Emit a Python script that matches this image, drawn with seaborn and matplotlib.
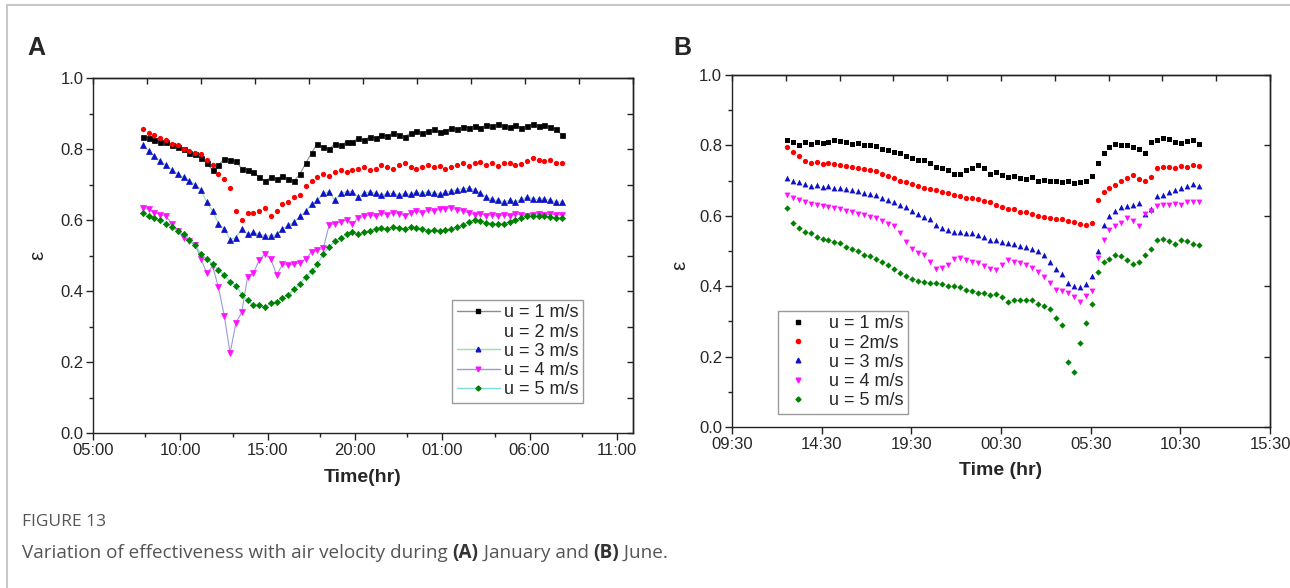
import numpy as np
import matplotlib
matplotlib.use("Agg")
import matplotlib.pyplot as plt
from matplotlib.lines import Line2D
from matplotlib.patches import Rectangle
import seaborn as sns

# %% data, one sample every 20 min
# (A) January, first sample at 07:51, hours counted from midnight of day 1
jan_start = 7.85
jan_u1 = [0.835, 0.83, 0.825, 0.82, 0.82, 0.81, 0.805, 0.80, 0.79, 0.785,
          0.775, 0.76, 0.74, 0.755, 0.772, 0.77, 0.765, 0.745, 0.74, 0.735,
          0.72, 0.71, 0.72, 0.715, 0.725, 0.715, 0.71, 0.73, 0.76, 0.79,
          0.815, 0.805, 0.80, 0.815, 0.81, 0.82, 0.82, 0.83, 0.825, 0.835,
          0.83, 0.84, 0.838, 0.845, 0.84, 0.835, 0.845, 0.85, 0.845, 0.852,
          0.855, 0.848, 0.85, 0.86, 0.855, 0.862, 0.86, 0.865, 0.86, 0.868,
          0.865, 0.87, 0.865, 0.862, 0.868, 0.86, 0.865, 0.87, 0.865, 0.868,
          0.862, 0.855, 0.84]
jan_u2 = [0.856, 0.845, 0.84, 0.83, 0.825, 0.815, 0.81, 0.80, 0.795, 0.79,
          0.785, 0.77, 0.755, 0.73, 0.715, 0.69, 0.625, 0.60, 0.62, 0.62,
          0.625, 0.635, 0.61, 0.625, 0.645, 0.65, 0.665, 0.67, 0.695, 0.71,
          0.72, 0.73, 0.725, 0.735, 0.74, 0.735, 0.74, 0.745, 0.75, 0.74,
          0.745, 0.755, 0.75, 0.745, 0.755, 0.76, 0.75, 0.745, 0.75, 0.755,
          0.748, 0.752, 0.745, 0.75, 0.755, 0.76, 0.752, 0.76, 0.763, 0.755,
          0.76, 0.752, 0.76, 0.762, 0.755, 0.758, 0.765, 0.775, 0.77, 0.765,
          0.768, 0.762, 0.76]
jan_u3 = [0.81, 0.795, 0.78, 0.765, 0.755, 0.74, 0.73, 0.72, 0.71, 0.70,
          0.685, 0.65, 0.625, 0.59, 0.575, 0.545, 0.55, 0.575, 0.56, 0.565,
          0.56, 0.555, 0.555, 0.56, 0.575, 0.585, 0.595, 0.61, 0.625, 0.645,
          0.655, 0.675, 0.68, 0.655, 0.675, 0.68, 0.68, 0.665, 0.675, 0.68,
          0.675, 0.67, 0.675, 0.675, 0.67, 0.675, 0.672, 0.678, 0.675, 0.68,
          0.677, 0.673, 0.678, 0.682, 0.685, 0.688, 0.69, 0.685, 0.675, 0.665,
          0.658, 0.655, 0.652, 0.655, 0.652, 0.658, 0.665, 0.66, 0.658, 0.66,
          0.655, 0.652, 0.65]
jan_u4 = [0.634, 0.63, 0.62, 0.615, 0.61, 0.59, 0.57, 0.55, 0.54, 0.53,
          0.49, 0.45, 0.47, 0.41, 0.33, 0.225, 0.31, 0.34, 0.44, 0.45,
          0.487, 0.505, 0.49, 0.445, 0.475, 0.473, 0.475, 0.48, 0.49, 0.51,
          0.515, 0.52, 0.585, 0.59, 0.595, 0.60, 0.59, 0.605, 0.61, 0.615,
          0.61, 0.62, 0.615, 0.62, 0.618, 0.612, 0.62, 0.625, 0.62, 0.628,
          0.625, 0.63, 0.632, 0.635, 0.628, 0.625, 0.62, 0.615, 0.618, 0.612,
          0.615, 0.61, 0.615, 0.612, 0.618, 0.615, 0.612, 0.615, 0.618, 0.614,
          0.616, 0.615, 0.614]
jan_u5 = [0.62, 0.61, 0.605, 0.60, 0.59, 0.58, 0.57, 0.56, 0.545, 0.53,
          0.505, 0.49, 0.475, 0.46, 0.445, 0.425, 0.415, 0.39, 0.375, 0.36,
          0.36, 0.355, 0.365, 0.37, 0.38, 0.39, 0.405, 0.42, 0.44, 0.455,
          0.475, 0.505, 0.525, 0.54, 0.55, 0.56, 0.565, 0.56, 0.565, 0.57,
          0.575, 0.578, 0.575, 0.58, 0.578, 0.575, 0.58, 0.578, 0.575, 0.57,
          0.572, 0.568, 0.572, 0.575, 0.58, 0.585, 0.595, 0.60, 0.598, 0.592,
          0.59, 0.588, 0.59, 0.595, 0.60, 0.605, 0.61, 0.612, 0.61, 0.612,
          0.608, 0.607, 0.605]

# (B) June, first sample at 12:33
jun_start = 12.55
jun_u1 = [0.815, 0.81, 0.80, 0.81, 0.805, 0.81, 0.808, 0.81, 0.815, 0.812,
          0.81, 0.805, 0.808, 0.80, 0.80, 0.798, 0.79, 0.788, 0.78, 0.778,
          0.77, 0.765, 0.76, 0.758, 0.75, 0.74, 0.735, 0.73, 0.72, 0.718,
          0.73, 0.735, 0.745, 0.735, 0.72, 0.725, 0.715, 0.71, 0.712, 0.708,
          0.705, 0.71, 0.70, 0.702, 0.698, 0.70, 0.695, 0.698, 0.692, 0.695,
          0.70, 0.712, 0.75, 0.778, 0.795, 0.805, 0.80, 0.80, 0.795, 0.79,
          0.778, 0.81, 0.815, 0.82, 0.818, 0.81, 0.808, 0.812, 0.815, 0.805]
jun_u2 = [0.795, 0.78, 0.77, 0.755, 0.75, 0.752, 0.748, 0.75, 0.748, 0.745,
          0.742, 0.74, 0.735, 0.732, 0.73, 0.728, 0.72, 0.712, 0.708, 0.70,
          0.695, 0.69, 0.685, 0.68, 0.675, 0.672, 0.668, 0.665, 0.66, 0.655,
          0.652, 0.65, 0.648, 0.642, 0.638, 0.632, 0.625, 0.62, 0.618, 0.612,
          0.61, 0.605, 0.60, 0.598, 0.595, 0.592, 0.59, 0.585, 0.582, 0.578,
          0.575, 0.58, 0.645, 0.668, 0.68, 0.688, 0.70, 0.708, 0.715, 0.705,
          0.698, 0.71, 0.735, 0.74, 0.738, 0.735, 0.742, 0.738, 0.745, 0.742]
jun_u3 = [0.707, 0.70, 0.695, 0.69, 0.685, 0.688, 0.682, 0.685, 0.68, 0.678,
          0.675, 0.672, 0.67, 0.665, 0.662, 0.66, 0.652, 0.645, 0.638, 0.632,
          0.625, 0.615, 0.605, 0.598, 0.59, 0.575, 0.565, 0.56, 0.555, 0.555,
          0.55, 0.55, 0.545, 0.54, 0.532, 0.53, 0.525, 0.522, 0.52, 0.515,
          0.512, 0.505, 0.50, 0.49, 0.47, 0.45, 0.435, 0.41, 0.40, 0.398,
          0.405, 0.43, 0.50, 0.575, 0.60, 0.615, 0.625, 0.628, 0.632, 0.636,
          0.605, 0.62, 0.655, 0.66, 0.668, 0.672, 0.68, 0.685, 0.69, 0.685]
jun_u4 = [0.66, 0.65, 0.645, 0.638, 0.635, 0.632, 0.628, 0.625, 0.622, 0.62,
          0.615, 0.61, 0.605, 0.602, 0.598, 0.594, 0.585, 0.578, 0.57, 0.55,
          0.525, 0.505, 0.495, 0.49, 0.47, 0.448, 0.452, 0.46, 0.478, 0.48,
          0.475, 0.47, 0.465, 0.458, 0.45, 0.445, 0.46, 0.474, 0.47, 0.465,
          0.46, 0.452, 0.44, 0.425, 0.41, 0.39, 0.385, 0.382, 0.37, 0.355,
          0.372, 0.385, 0.48, 0.53, 0.56, 0.572, 0.58, 0.595, 0.585, 0.57,
          0.605, 0.615, 0.628, 0.63, 0.632, 0.635, 0.63, 0.638, 0.64, 0.64]
jun_u5 = [0.622, 0.58, 0.565, 0.555, 0.55, 0.54, 0.535, 0.53, 0.525, 0.522,
          0.512, 0.505, 0.50, 0.49, 0.485, 0.478, 0.47, 0.46, 0.448, 0.438,
          0.428, 0.42, 0.415, 0.412, 0.41, 0.41, 0.405, 0.40, 0.402, 0.398,
          0.39, 0.385, 0.38, 0.38, 0.375, 0.378, 0.37, 0.355, 0.36, 0.362,
          0.36, 0.36, 0.35, 0.345, 0.335, 0.31, 0.29, 0.185, 0.155, 0.24,
          0.295, 0.35, 0.44, 0.468, 0.478, 0.49, 0.485, 0.475, 0.462, 0.47,
          0.49, 0.505, 0.53, 0.535, 0.528, 0.52, 0.53, 0.528, 0.52, 0.517]

jan_hours = jan_start + np.arange(len(jan_u1)) / 3
jun_hours = jun_start + np.arange(len(jun_u1)) / 3

jan_labels = ["u = 1 m/s", "u = 2 m/s", "u = 3 m/s", "u = 4 m/s", "u = 5 m/s"]
jun_labels = ["u = 1 m/s", "u = 2m/s", "u = 3 m/s", "u = 4 m/s", "u = 5 m/s"]

jan_ticks = [5, 10, 15, 20, 25, 30, 35]
jan_ticklabels = ["05:00", "10:00", "15:00", "20:00", "01:00", "06:00", "11:00"]
jan_minor = [8, 13, 18, 23, 28, 33]
jun_ticks = [9.5, 14.5, 19.5, 24.5, 29.5, 34.5, 39.5]
jun_ticklabels = ["09:30", "14:30", "19:30", "00:30", "05:30", "10:30", "15:30"]

# %% style
sns.set_theme(style="ticks")
plt.rcParams["font.family"] = ["Liberation Sans", "DejaVu Sans"]
plt.rcParams["axes.edgecolor"] = "#222222"
plt.rcParams["axes.linewidth"] = 1.0

markers = ["s", "o", "^", "v", "D"]
colors = ["#000000", "#ff0000", "#1010c8", "#ff10ff", "#008000"]
line_colors = ["#8c8c8c", None, "#8fe6a8", "#9a9ad8", "#7fe0e0"]
msizes = [3.6, 3.8, 4.2, 4.2, 3.2]

fig = plt.figure(figsize=(12.9, 5.88), dpi=100)
ax_a = fig.add_axes([0.0721, 0.2636, 0.4186, 0.6037])
ax_b = fig.add_axes([0.5674, 0.2738, 0.4171, 0.5986])


def style_axes(ax, xlim, ticks, ticklabels, minor, right_step, ylabel_xy, xlabel_y, xlabel):
    ax.set_xlim(*xlim)
    ax.set_ylim(0, 1.0)
    ax.set_xticks(ticks)
    ax.set_xticklabels(ticklabels)
    ax.set_xticks(minor, minor=True)
    ax.set_yticks([0, 0.2, 0.4, 0.6, 0.8, 1.0])
    ax.set_yticklabels(["0.0", "0.2", "0.4", "0.6", "0.8", "1.0"])
    ax.set_yticks([0.1, 0.3, 0.5, 0.7, 0.9], minor=True)
    ax.tick_params(which="major", direction="out", length=5, width=1.0,
                   labelsize=12, pad=2, color="#222222")
    ax.tick_params(which="minor", direction="out", length=3, width=1.0,
                   color="#222222")
    for s in ax.spines.values():
        s.set_visible(True)
        s.set_color("#222222")

    # the top and right edges carry their own inward ticks
    top = ax.secondary_xaxis("top")
    top.set_xticks([xlim[0] + (xlim[1] - xlim[0]) * i / 10 for i in range(11)])
    top.tick_params(direction="in", length=4, width=1.0, labeltop=False, color="#222222")
    right = ax.secondary_yaxis("right")
    right.set_yticks(list(np.arange(0, 1.001, right_step)))
    right.tick_params(direction="in", length=4, width=1.0, labelright=False, color="#222222")

    ax.set_xlabel(xlabel, fontsize=14, fontweight="bold")
    ax.set_ylabel("ε", fontsize=15)
    ax.xaxis.set_label_coords(0.5, xlabel_y)
    ax.yaxis.set_label_coords(*ylabel_xy)


# %% panel A: markers joined by thin lines
jan_series = [jan_u1, jan_u2, jan_u3, jan_u4, jan_u5]
for vals, mk, col, lcol, ms in zip(jan_series, markers, colors, line_colors, msizes):
    if lcol is None:
        sns.scatterplot(x=jan_hours, y=vals, ax=ax_a, marker=mk, color=col,
                        s=ms ** 2, linewidth=0, legend=False, zorder=3)
    else:
        sns.lineplot(x=jan_hours, y=vals, ax=ax_a, color=lcol, linewidth=0.8,
                     marker=mk, markersize=ms, markerfacecolor=col,
                     markeredgecolor=col, markeredgewidth=0.5, legend=False,
                     zorder=3)

style_axes(ax_a, (5, 35.92), jan_ticks, jan_ticklabels, jan_minor, 0.1,
           (-0.085, 0.5), -0.1, "Time(hr)")

handles_a = []
for mk, col, lcol, ms in zip(markers, colors, line_colors, msizes):
    if lcol is None:
        handles_a.append(Line2D([], [], linestyle="none", marker="none"))
    else:
        handles_a.append(Line2D([], [], color=lcol, linewidth=1.0, marker=mk,
                                markersize=ms * 0.8, markerfacecolor=col,
                                markeredgecolor=col))
leg_a = ax_a.legend(handles_a, jan_labels, loc="upper left",
                    bbox_to_anchor=(0.665, 0.375), fontsize=13, frameon=True,
                    fancybox=False, edgecolor="#9a9a9a", framealpha=1,
                    handlelength=2.4, handletextpad=0.2, labelspacing=0.12,
                    borderpad=0.25, borderaxespad=0)
leg_a.get_frame().set_linewidth(1.0)

# %% panel B: markers only
jun_series = [jun_u1, jun_u2, jun_u3, jun_u4, jun_u5]
for vals, mk, col, ms in zip(jun_series, markers, colors, msizes):
    sns.scatterplot(x=jun_hours, y=vals, ax=ax_b, marker=mk, color=col,
                    s=ms ** 2, linewidth=0, legend=False, zorder=3)

style_axes(ax_b, (9.5, 39.5), jun_ticks, jun_ticklabels, [], 0.2,
           (-0.08, 0.46), -0.1, "Time (hr)")

handles_b = [Line2D([], [], linestyle="none", marker=mk, markersize=ms * 0.8,
                    markerfacecolor=col, markeredgecolor=col)
             for mk, col, ms in zip(markers, colors, msizes)]
leg_b = ax_b.legend(handles_b, jun_labels, loc="upper left",
                    bbox_to_anchor=(0.0855, 0.33), fontsize=13, frameon=True,
                    fancybox=False, edgecolor="#9a9a9a", framealpha=1,
                    handlelength=1.7, handletextpad=0.9, labelspacing=0.12,
                    borderpad=0.25, borderaxespad=0)
leg_b.get_frame().set_linewidth(1.0)

# %% panel letters, frame and caption
fig.text(27 / 1290, 1 - 48 / 588, "A", fontsize=18, fontweight="bold", va="center")
fig.text(673 / 1290, 1 - 48 / 588, "B", fontsize=18, fontweight="bold", va="center")

fig.add_artist(Rectangle((7 / 1290, -0.05), 1.2, 1.05 - 5 / 588,
                         transform=fig.transFigure, fill=False,
                         edgecolor="#c8c8c8", linewidth=1.5))

cap_font = ["Open Sans", "DejaVu Sans"]
fig.text(22 / 1290, 1 - 522 / 588, "FIGURE 13", fontsize=12.5, color="#555555",
         family=cap_font, va="center")

pieces = [("Variation of effectiveness with air velocity during ", "normal"),
          ("(A)", "bold"), (" January and ", "normal"), ("(B)", "bold"),
          (" June.", "normal")]
fig.canvas.draw()
renderer = fig.canvas.get_renderer()
x = 22 / 1290
for txt, w in pieces:
    t = fig.text(x, 1 - 553 / 588, txt, fontsize=13.6, family=cap_font,
                 color="#555555" if w == "normal" else "#333333",
                 fontweight=w, va="center")
    bb = t.get_window_extent(renderer=renderer)
    x += bb.width / fig.bbox.width

fig.savefig("out.png", dpi=100)
print("saved out.png")
